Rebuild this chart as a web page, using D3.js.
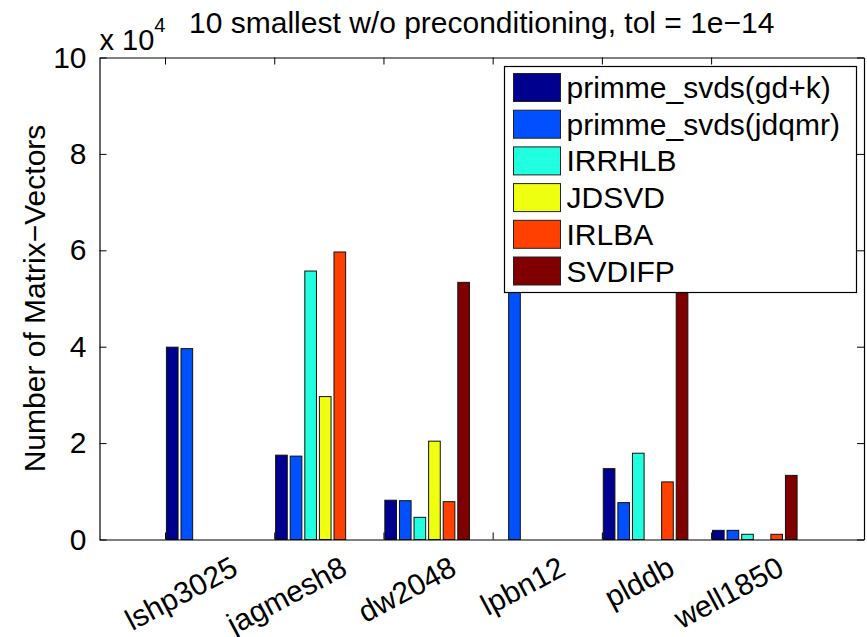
<!DOCTYPE html>
<html>
<head>
<meta charset="utf-8">
<script src="https://cdnjs.cloudflare.com/ajax/libs/d3/7.8.5/d3.min.js"></script>
<style>
  body { margin: 0; background: #fff; }
  svg { display: block; font-family: "Liberation Sans", Arial, Helvetica, sans-serif; }
</style>
</head>
<body>
<svg width="867" height="637"></svg>
<script>
// matrices on the x axis
var matrices = ["lshp3025", "jagmesh8", "dw2048", "lpbn12", "plddb", "well1850"];
// solvers (legend order)
var methods = ["primme_svds(gd+k)", "primme_svds(jdqmr)", "IRRHLB", "JDSVD", "IRLBA", "SVDIFP"];
var colors = ["#00008f", "#0050ff", "#20ffdf", "#efff10", "#ff4000", "#800000"];

// matrix-vector counts, one array per solver (0 = no bar)
var gdk    = [39900, 17500, 8150, 0, 14700, 1900];
var jdqmr  = [39600, 17300, 8050, 75000, 7650, 1900];
var irrhlb = [0, 55700, 4600, 0, 17900, 1080];
var jdsvd  = [0, 29650, 20400, 0, 0, 0];
var irlba  = [0, 59650, 7850, 0, 11950, 1080];
var svdifp = [0, 0, 53350, 0, 62000, 13300];
var series = [gdk, jdqmr, irrhlb, jdsvd, irlba, svdifp];

var yTicks = [0, 20000, 40000, 60000, 80000, 100000];

var svg = d3.select("svg");
var pLeft = 99.5, pRight = 864, pTop = 57.5, pBottom = 539.5;

var x = d3.scaleLinear().domain([0.4, 7.4]).range([pLeft, pRight]);
var y = d3.scaleLinear().domain([0, 100000]).range([pBottom, pTop]);

svg.append("rect").attr("width", 867).attr("height", 637).attr("fill", "#fff");

// bar layout inside each group
var step = 0.1336, barW = 0.1066, shift = 0.4;

var bars = [];
series.forEach(function(vals, k) {
    vals.forEach(function(v, i) {
        if (v > 0) bars.push({k: k, i: i + 1, v: v});
    });
});

svg.append("g").selectAll("rect")
    .data(bars)
    .enter().append("rect")
    .attr("x", function(d) { return x(d.i + shift + (d.k - 2.5) * step - barW / 2); })
    .attr("width", function(d) { return x(barW) - x(0); })
    .attr("y", function(d) { return y(d.v); })
    .attr("height", function(d) { return y(0) - y(d.v); })
    .attr("fill", function(d) { return colors[d.k]; })
    .attr("stroke", "#111")
    .attr("stroke-width", 1);

// axes box with inward ticks on all four sides
var fmt = function(d) { return d / 10000; };
svg.append("g")
    .attr("transform", "translate(" + pLeft + ",0)")
    .call(d3.axisLeft(y).tickValues(yTicks).tickFormat(fmt).tickSizeInner(-7).tickSizeOuter(0).tickPadding(13))
    .call(function(g) { g.selectAll("text").style("font-size", "30px").attr("fill", "#000"); });
svg.append("g")
    .attr("transform", "translate(" + pRight + ",0)")
    .call(d3.axisRight(y).tickValues(yTicks).tickFormat("").tickSizeInner(-7).tickSizeOuter(0));
svg.append("g")
    .attr("transform", "translate(0," + pTop + ")")
    .call(d3.axisTop(x).tickValues([1, 2, 3, 4, 5, 6]).tickFormat("").tickSizeInner(-7).tickSizeOuter(0));
svg.append("g")
    .attr("transform", "translate(0," + pBottom + ")")
    .call(d3.axisBottom(x).tickValues([1, 2, 3, 4, 5, 6]).tickFormat("").tickSizeInner(-7).tickSizeOuter(0));

svg.selectAll(".domain").attr("stroke", "#000").attr("stroke-width", 1.2);
svg.selectAll(".tick line").attr("stroke", "#000");

// rotated category labels
svg.append("g").selectAll("text")
    .data(matrices)
    .enter().append("text")
    .attr("transform", function(d, i) {
        return "translate(" + (x(i + 1 + shift) + 31) + ",574) rotate(-28)";
    })
    .attr("text-anchor", "end")
    .style("font-size", "30px")
    .text(function(d) { return d; });

// y axis label
svg.append("text")
    .attr("transform", "translate(45," + ((pTop + pBottom) / 2) + ") rotate(-90)")
    .attr("text-anchor", "middle")
    .style("font-size", "30px")
    .text("Number of Matrix\u2212Vectors");

// exponent
var ex = svg.append("text").attr("x", pLeft).attr("y", 50).style("font-size", "29px");
ex.append("tspan").text("x 10");
ex.append("tspan").attr("dy", -18).style("font-size", "20px").text("4");

// title
svg.append("text")
    .attr("x", (pLeft + pRight) / 2)
    .attr("y", 33)
    .attr("text-anchor", "middle")
    .style("font-size", "30px")
    .text("10 smallest w/o preconditioning, tol = 1e\u221214");

// legend
var lg = svg.append("g").attr("transform", "translate(504.5,66.5)");
lg.append("rect").attr("width", 352).attr("height", 226)
    .attr("fill", "#fff").attr("stroke", "#000").attr("stroke-width", 1.2);
var items = lg.selectAll("g.item")
    .data(methods)
    .enter().append("g")
    .attr("class", "item")
    .attr("transform", function(d, k) { return "translate(9," + (7 + k * 36.7) + ")"; });
items.append("rect")
    .attr("width", 47).attr("height", 28)
    .attr("fill", function(d, k) { return colors[k]; })
    .attr("stroke", "#222");
items.append("text")
    .attr("x", 53).attr("y", 24.5)
    .style("font-size", "30px")
    .text(function(d) { return d; });
</script>
</body>
</html>
